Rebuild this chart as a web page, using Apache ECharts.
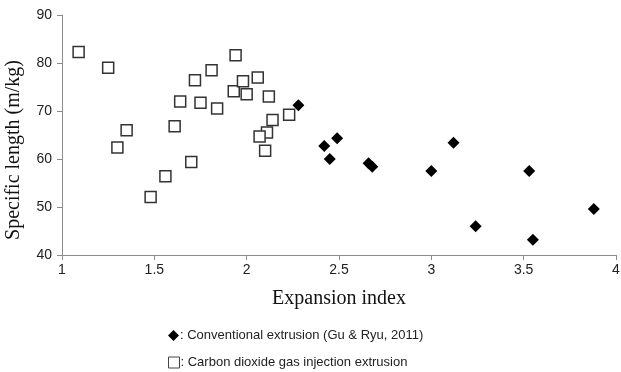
<!DOCTYPE html>
<html>
<head>
<meta charset="utf-8">
<script src="https://cdn.jsdelivr.net/npm/echarts@6/dist/echarts.min.js"></script>
<style>
  html, body { margin: 0; padding: 0; background: #fff; }
  #chart-container { width: 621px; height: 372px; }
</style>
</head>
<body>
<div id="chart-container"></div>
<script>
var dom = document.getElementById('chart-container');
var myChart = echarts.init(dom, null, { renderer: 'canvas' });

// conventional extrusion (Gu & Ryu, 2011)
var convX = [2.28, 2.42, 2.45, 2.49, 2.66, 2.68, 3.00, 3.12, 3.24, 3.53, 3.55, 3.88];
var convY = [71.2, 62.7, 60.0, 64.3, 59.1, 58.4, 57.5, 63.4, 46.0, 57.5, 43.2, 49.6];

// CO2 gas injection extrusion
var co2X = [1.09, 1.25, 1.30, 1.35, 1.48, 1.56, 1.61, 1.64, 1.70, 1.72, 1.75, 1.81,
            1.84, 1.94, 1.93, 1.98, 2.00, 2.06, 2.12, 2.14, 2.11, 2.07, 2.10, 2.23];
var co2Y = [82.3, 79.0, 62.4, 66.0, 52.1, 56.4, 66.8, 72.0, 59.4, 76.4, 71.7, 78.5,
            70.5, 81.6, 74.1, 76.2, 73.5, 77.0, 73.0, 68.1, 65.5, 64.7, 61.7, 69.2];

var seriesNames = [': Conventional extrusion (Gu & Ryu, 2011)', ': Carbon dioxide gas injection extrusion'];

function pairs(xs, ys) {
  return xs.map(function (x, i) { return [x, ys[i]]; });
}

var axisColor = '#8c8c8c';
var serif = '"Liberation Serif", "Times New Roman", serif';
var sans = '"Liberation Sans", Arial, sans-serif';

function legendFor(item, top) {
  return {
    left: 163,
    top: top,
    itemWidth: 11,
    itemHeight: 11,
    itemGap: 0,
    textStyle: { fontFamily: sans, fontSize: 13, color: '#222', padding: [0, 0, 0, -4] },
    data: [item]
  };
}

var option = {
  animation: false,
  grid: { left: 62, right: 5, top: 15, bottom: 117, containLabel: false, outerBoundsMode: 'none' },
  legend: [
    legendFor({ name: seriesNames[0] }, 324),
    legendFor({ name: seriesNames[1], itemStyle: { borderWidth: 1, borderColor: '#444' } }, 351)
  ],
  xAxis: {
    type: 'value',
    min: 1,
    max: 4,
    interval: 0.5,
    name: 'Expansion index',
    nameLocation: 'middle',
    nameGap: 34,
    nameTextStyle: { fontFamily: serif, fontSize: 20, color: '#111' },
    axisLine: { show: true, lineStyle: { color: axisColor, width: 1 } },
    axisTick: { show: true, inside: false, length: 5, lineStyle: { color: axisColor } },
    axisLabel: { fontFamily: sans, fontSize: 14, color: '#222', margin: 8 },
    splitLine: { show: false }
  },
  yAxis: {
    type: 'value',
    min: 40,
    max: 90,
    interval: 10,
    name: 'Specific length (m/kg)',
    nameLocation: 'middle',
    nameGap: 38,
    nameTextStyle: { fontFamily: serif, fontSize: 20, color: '#111', padding: [0, 30, 0, 0] },
    axisLine: { show: true, lineStyle: { color: axisColor, width: 1 } },
    axisTick: { show: true, inside: false, length: 5, lineStyle: { color: axisColor } },
    axisLabel: { fontFamily: sans, fontSize: 14, color: '#222', margin: 10 },
    splitLine: { show: false }
  },
  series: [
    {
      name: seriesNames[0],
      type: 'scatter',
      symbol: 'diamond',
      symbolSize: 12,
      itemStyle: { color: '#000', opacity: 1 },
      data: pairs(convX, convY)
    },
    {
      name: seriesNames[1],
      type: 'scatter',
      symbol: 'rect',
      symbolSize: 11,
      itemStyle: { color: '#fff', borderColor: '#333', borderWidth: 1.5, opacity: 1 },
      data: pairs(co2X, co2Y)
    }
  ]
};

myChart.setOption(option);
window.addEventListener('resize', myChart.resize);
</script>
</body>
</html>
